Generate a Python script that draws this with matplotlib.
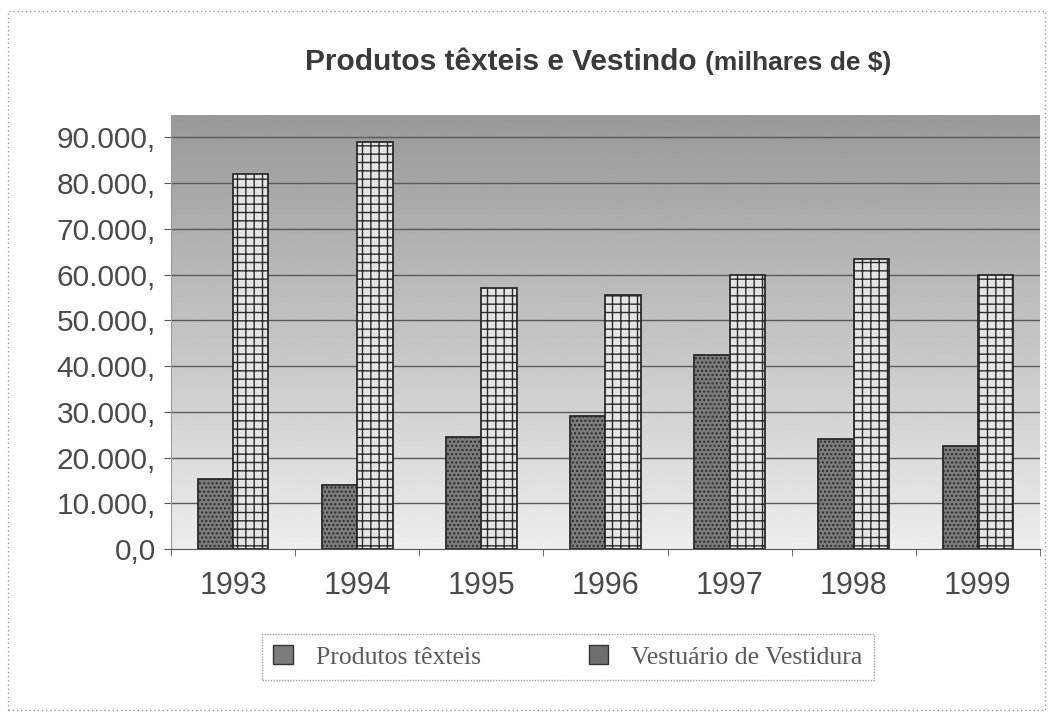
import numpy as np
import matplotlib
matplotlib.use("Agg")
import matplotlib.pyplot as plt
from matplotlib.patches import Rectangle
from matplotlib.ticker import FixedLocator

# Data (thousands of $)
years = ["1993", "1994", "1995", "1996", "1997", "1998", "1999"]
produtos_texteis = [15300, 14000, 24500, 29000, 42500, 24000, 22500]
vestuario = [82000, 89000, 57000, 55500, 60000, 63500, 60000]
ytick_values = [0, 10000, 20000, 30000, 40000, 50000, 60000, 70000, 80000, 90000]
ytick_labels = ["0,0", "10.000,", "20.000,", "30.000,", "40.000,",
                "50.000,", "60.000,", "70.000,", "80.000,", "90.000,"]
series_names = ["Produtos têxteis", "Vestuário de Vestidura"]

SANS = ["Liberation Sans", "DejaVu Sans"]
SERIF = ["Liberation Serif", "DejaVu Serif"]

fig = plt.figure(figsize=(10.51, 7.17), dpi=100)
fig.patch.set_facecolor("white")

ax = fig.add_axes([0.1627, 0.2343, 0.8268, 0.6053])
ax.set_xlim(-0.5, len(years) - 0.5)
ax.set_ylim(0, 94900)

# gray gradient plot background, darker at the top
grad = np.linspace(0.60, 0.93, 256).reshape(-1, 1)
ax.imshow(grad, extent=[0, 1, 0, 1], transform=ax.transAxes, cmap="gray",
          vmin=0, vmax=1, aspect="auto", zorder=0, origin="upper")

# horizontal gridlines
for v in ytick_values[1:]:
    ax.axhline(v, color="#5a5a5a", lw=1.0, zorder=1)

x = np.arange(len(years))
w = 0.285
ax.bar(x - w / 2, produtos_texteis, width=w, color="#7c7c7c",
       edgecolor="#2a2a2a", linewidth=1.3, hatch="....", zorder=3)
plt.rcParams["hatch.color"] = "#9a9a9a"
ax.bar(x + w / 2, vestuario, width=w, color="#e4e4e4",
       edgecolor="#2a2a2a", linewidth=1.3, hatch="++", zorder=3)

# axes styling
for side in ["top", "right"]:
    ax.spines[side].set_visible(False)
ax.spines["left"].set_color("#9a9a9a")
ax.spines["bottom"].set_color("#555555")
ax.spines["left"].set_linestyle((0, (1, 1)))

ax.yaxis.set_major_locator(FixedLocator(ytick_values))
ax.set_yticklabels(ytick_labels)
ax.tick_params(axis="y", labelsize=21.5, labelcolor="#4a4a4a", length=5,
               color="#555555", pad=6)
for lab in ax.get_yticklabels():
    lab.set_fontfamily(SANS)

ax.set_xticks(x)
ax.set_xticklabels(years)
ax.tick_params(axis="x", which="major", length=0, labelsize=22,
               labelcolor="#4a4a4a", pad=16)
ax.xaxis.set_minor_locator(FixedLocator(np.arange(-0.5, len(years), 1.0)))
ax.tick_params(axis="x", which="minor", length=5, color="#555555")
for lab in ax.get_xticklabels():
    lab.set_fontfamily(SANS)

# title in two parts, the unit part slightly smaller
t1 = fig.text(305 / 1051, 1 - 62 / 717, "Produtos têxteis e Vestindo",
              fontsize=21.5, fontweight="bold", color="#3a3a3a", family=SANS,
              ha="left", va="center")
fig.canvas.draw()
bb = t1.get_window_extent()
fig.text((bb.x1 + 8) / 1051, 1 - 63 / 717, "(milhares de $)", fontsize=19,
         fontweight="bold", color="#3a3a3a", family=SANS,
         ha="left", va="center")

# legend
handles = [Rectangle((0, 0), 1, 1, facecolor="#7c7c7c", edgecolor="#333333"),
           Rectangle((0, 0), 1, 1, facecolor="#6e6e6e", edgecolor="#333333")]
leg = fig.legend(handles, series_names, loc="center",
                 bbox_to_anchor=(568 / 1051, 1 - 657 / 717), ncol=2,
                 frameon=True, fancybox=False, handlelength=0.75,
                 handleheight=0.75, handletextpad=0.9, columnspacing=4.2,
                 borderpad=0.45, borderaxespad=0,
                 prop={"family": SERIF, "size": 18.5})
leg.get_frame().set_edgecolor("#8a8a8a")
leg.get_frame().set_linestyle((0, (1, 1)))
leg.get_frame().set_linewidth(1.0)
for t in leg.get_texts():
    t.set_color("#5a5a5a")

# dotted outer border of the chart
fig.add_artist(Rectangle((0.008, 0.01), 0.986, 0.975, transform=fig.transFigure,
                         fill=False, edgecolor="#9a9a9a", linewidth=1.0,
                         linestyle=(0, (1, 2))))

fig.savefig("out.png", dpi=100, facecolor="white")
